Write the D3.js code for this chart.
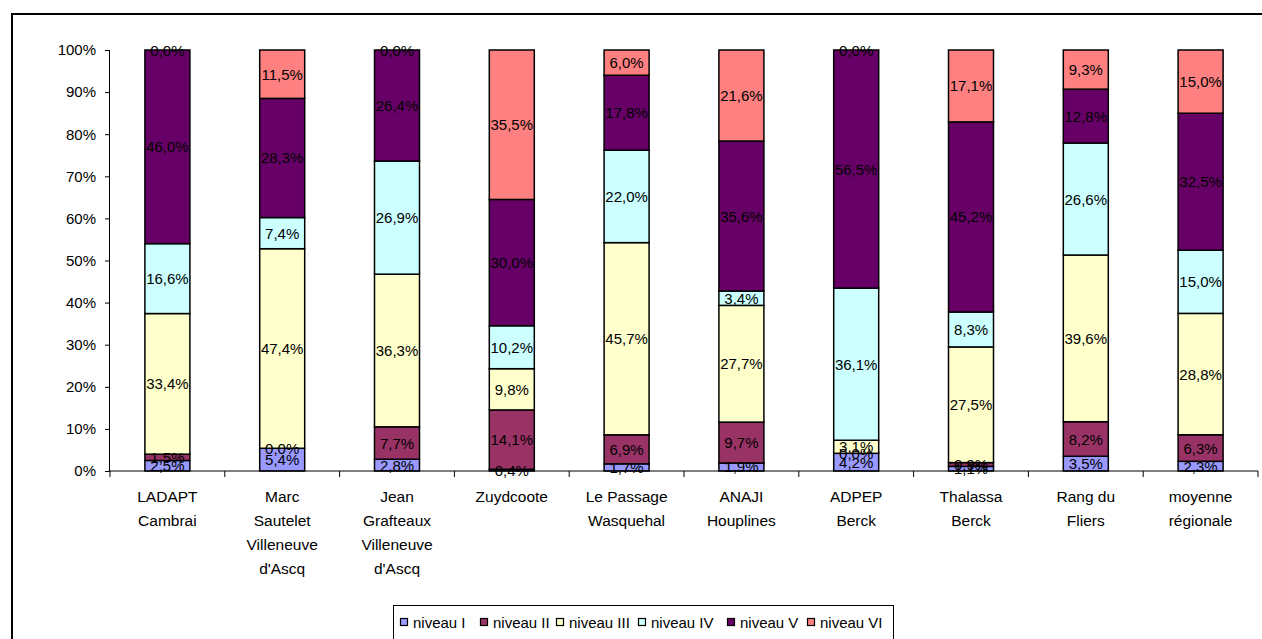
<!DOCTYPE html>
<html><head><meta charset="utf-8">
<script src="https://cdn.jsdelivr.net/npm/d3@7"></script>
<style>body{margin:0;background:#fff;}svg{display:block;font-family:"Liberation Sans",Arial,sans-serif;}</style>
</head><body><svg id="c" width="1262" height="639"></svg>
<script>
const categories = [
  ["LADAPT","Cambrai"],
  ["Marc","Sautelet","Villeneuve","d'Ascq"],
  ["Jean","Grafteaux","Villeneuve","d'Ascq"],
  ["Zuydcoote"],
  ["Le Passage","Wasquehal"],
  ["ANAJI","Houplines"],
  ["ADPEP","Berck"],
  ["Thalassa","Berck"],
  ["Rang du","Fliers"],
  ["moyenne","régionale"]
];
const seriesNames = ["niveau I","niveau II","niveau III","niveau IV","niveau V","niveau VI"];
const seriesColors = ["#9999FF","#993366","#FFFFCC","#CCFFFF","#660066","#FF8080"];
const niveauI   = [2.5, 5.4, 2.8, 0.4, 1.7, 1.9, 4.2, 1.1, 3.5, 2.3];
const niveauII  = [1.5, 0.0, 7.7, 14.1, 6.9, 9.7, 0.0, 0.9, 8.2, 6.3];
const niveauIII = [33.4, 47.4, 36.3, 9.8, 45.7, 27.7, 3.1, 27.5, 39.6, 28.8];
const niveauIV  = [16.6, 7.4, 26.9, 10.2, 22.0, 3.4, 36.1, 8.3, 26.6, 15.0];
const niveauV   = [46.0, 28.3, 26.4, 30.0, 17.8, 35.6, 56.5, 45.2, 12.8, 32.5];
const niveauVI  = [0.0, 11.5, 0.0, 35.5, 6.0, 21.6, 0.0, 17.1, 9.3, 15.0];
const yTicks = [0,10,20,30,40,50,60,70,80,90,100];

const series = [niveauI,niveauII,niveauIII,niveauIV,niveauV,niveauVI];
const svg = d3.select("#c");
const FS = 15;

// outer frame
svg.append("rect").attr("x",12).attr("y",14).attr("width",1262).attr("height",640)
  .attr("fill","none").attr("stroke","#000").attr("stroke-width",2);

const x = d3.scaleBand().domain(d3.range(categories.length)).range([110,1258]).paddingInner(0).paddingOuter(0);
const y = d3.scaleLinear().domain([0,100]).range([471,50]);
const barW = 45;

const table = categories.map((c,i)=>{
  const o = {i};
  seriesNames.forEach((s,k)=>o[s]=series[k][i]);
  return o;
});
const stack = d3.stack().keys(seriesNames).offset(d3.stackOffsetExpand)(table);

const g = svg.append("g");
stack.forEach((layer,k)=>{
  g.selectAll(null).data(layer).enter().append("rect")
    .attr("x",(d,i)=>x(i)+x.bandwidth()/2-barW/2)
    .attr("y",d=>y(d[1]*100))
    .attr("width",barW)
    .attr("height",d=>y(d[0]*100)-y(d[1]*100))
    .attr("fill",seriesColors[k])
    .attr("stroke","#000").attr("stroke-width",1.5);
});
stack.forEach((layer,k)=>{
  g.selectAll(null).data(layer).enter().append("text")
    .attr("x",(d,i)=>x(i)+x.bandwidth()/2)
    .attr("y",d=>y((d[0]+d[1])/2*100)+5.5)
    .attr("text-anchor","middle").attr("font-size",FS).attr("fill","#000")
    .text((d,i)=>series[k][i].toFixed(1).replace(".",",")+"%");
});

// y axis
const yAxis = d3.axisLeft(y).tickValues(yTicks).tickSize(5).tickFormat(d=>d+"%");
const ya = svg.append("g").attr("transform","translate(110,0)").call(yAxis);
ya.select(".domain").attr("stroke","#000").attr("d","M-0.5,50V471");
ya.selectAll(".tick line").attr("stroke","#000");
ya.selectAll(".tick text").attr("font-size",FS).attr("fill","#000").attr("x",-14)
  .attr("font-family","Liberation Sans, Arial, sans-serif");

// x axis
const xa = svg.append("g").attr("transform","translate(0,471)");
xa.append("line").attr("x1",110).attr("x2",1258).attr("stroke","#000");
const bounds = d3.range(categories.length+1).map(i=> i<categories.length ? x(i) : x.range()[1]);
xa.selectAll("line.t").data(bounds).enter().append("line").attr("class","t")
  .attr("x1",d=>d).attr("x2",d=>d).attr("y1",0).attr("y2",6).attr("stroke","#000");
categories.forEach((lines,i)=>{
  const t = xa.append("text").attr("text-anchor","middle").attr("font-size",15.5).attr("fill","#000");
  lines.forEach((ln,j)=>t.append("tspan").attr("x",x(i)+x.bandwidth()/2).attr("y",30.5+j*24).text(ln));
});

// legend
const lg = svg.append("g");
lg.append("rect").attr("x",393.5).attr("y",605.5).attr("width",500).attr("height",40)
  .attr("fill","#fff").attr("stroke","#000").attr("stroke-width",1);
const legX = [400,480,556,638,727,807];
seriesNames.forEach((s,k)=>{
  lg.append("rect").attr("x",legX[k]+0.5).attr("y",618.5).attr("width",7).attr("height",7)
    .attr("fill",seriesColors[k]).attr("stroke","#000").attr("stroke-width",1.2);
  lg.append("text").attr("x",legX[k]+13).attr("y",628).attr("font-size",FS).attr("fill","#000").text(s);
});
</script></body></html>
